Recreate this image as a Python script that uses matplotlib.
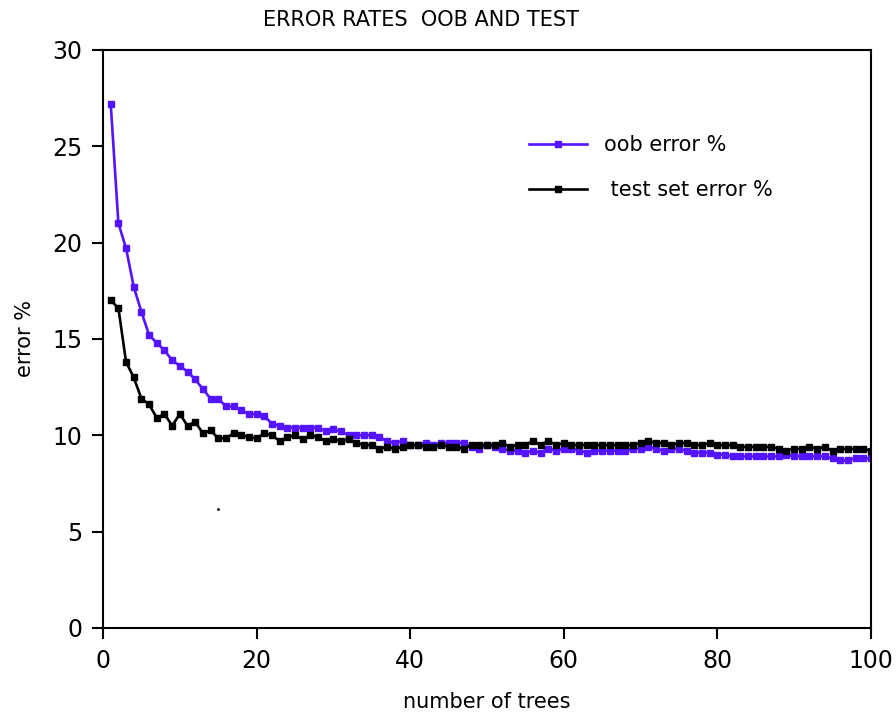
import numpy as np
import matplotlib
matplotlib.use("Agg")
import matplotlib.pyplot as plt

plt.rcParams['font.family'] = ['Liberation Sans Narrow', 'DejaVu Sans']

trees = np.arange(1, 101)

oob_error = [
    27.2, 21.0, 19.7, 17.7, 16.4, 15.2, 14.8, 14.4, 13.9, 13.6,
    13.3, 12.9, 12.4, 11.9, 11.9, 11.5, 11.5, 11.3, 11.1, 11.1,
    11.0, 10.6, 10.5, 10.4, 10.4, 10.4, 10.4, 10.4, 10.2, 10.3,
    10.2, 10.0, 10.0, 10.0, 10.0, 9.9, 9.7, 9.6, 9.7, 9.5,
    9.5, 9.6, 9.5, 9.6, 9.6, 9.6, 9.6, 9.4, 9.3, 9.5,
    9.4, 9.3, 9.2, 9.2, 9.1, 9.2, 9.1, 9.3, 9.2, 9.3,
    9.3, 9.2, 9.1, 9.2, 9.2, 9.2, 9.2, 9.2, 9.3, 9.3,
    9.4, 9.3, 9.2, 9.3, 9.3, 9.2, 9.1, 9.1, 9.1, 9.0,
    9.0, 8.9, 8.9, 8.9, 8.9, 8.9, 8.9, 8.9, 9.0, 8.9,
    8.9, 8.9, 8.9, 8.9, 8.8, 8.7, 8.7, 8.8, 8.8, 8.8,
]

test_error = [
    17.0, 16.6, 13.8, 13.0, 11.9, 11.6, 10.9, 11.1, 10.5, 11.1,
    10.5, 10.7, 10.1, 10.25, 9.85, 9.85, 10.1, 10.0, 9.9, 9.85,
    10.1, 10.0, 9.7, 9.9, 10.0, 9.8, 10.0, 9.9, 9.7, 9.8,
    9.7, 9.8, 9.6, 9.5, 9.5, 9.3, 9.4, 9.3, 9.4, 9.5,
    9.5, 9.4, 9.4, 9.5, 9.4, 9.4, 9.3, 9.5, 9.5, 9.5,
    9.5, 9.6, 9.4, 9.5, 9.5, 9.7, 9.5, 9.7, 9.5, 9.6,
    9.5, 9.5, 9.5, 9.5, 9.5, 9.5, 9.5, 9.5, 9.5, 9.6,
    9.7, 9.6, 9.6, 9.5, 9.6, 9.6, 9.5, 9.5, 9.6, 9.5,
    9.5, 9.5, 9.4, 9.4, 9.4, 9.4, 9.4, 9.3, 9.2, 9.3,
    9.3, 9.4, 9.3, 9.4, 9.2, 9.3, 9.3, 9.3, 9.3, 9.2,
]

# stray dot in the original plot
stray_x = [15]
stray_y = [6.2]

fig = plt.figure(figsize=(8.96, 7.12), dpi=100)
ax = fig.add_axes([0.115, 0.118, 0.857, 0.812])

ax.plot(trees, oob_error, color='#5514ff', lw=1.9, marker='s', ms=4,
        label='oob error %')
ax.plot(trees, test_error, color='black', lw=1.9, marker='s', ms=4,
        label=' test set error %')
ax.plot(stray_x, stray_y, 'k.', ms=2)

ax.set_xlim(0, 100)
ax.set_ylim(0, 30)
ax.set_xticks([0, 20, 40, 60, 80, 100])
ax.set_yticks([0, 5, 10, 15, 20, 25, 30])
ax.tick_params(direction='out', length=8, width=1.5, labelsize=17, pad=7)
for sp in ax.spines.values():
    sp.set_linewidth(1.5)

ax.set_xlabel('number of trees', fontsize=15, labelpad=14)
ax.set_ylabel('error %', fontsize=15, labelpad=12)
fig.text(0.47, 0.972, 'ERROR RATES  OOB AND TEST', fontsize=15,
         ha='center', va='center')

ax.legend(loc='upper left', bbox_to_anchor=(0.53, 0.885), frameon=False,
          fontsize=15, handlelength=2.8, labelspacing=1.2)

fig.savefig('out.png', dpi=100)
